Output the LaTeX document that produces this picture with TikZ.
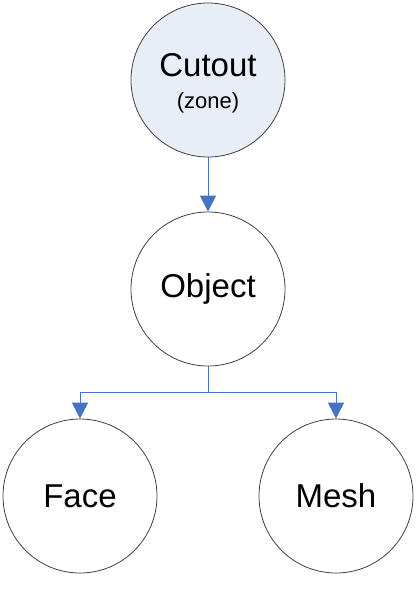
\documentclass[tikz,border=0pt]{standalone}
\usepackage{fontspec}
\setmainfont{Liberation Sans}
\usetikzlibrary{arrows.meta}
\definecolor{linkblue}{HTML}{4472C4}
\definecolor{rimgray}{HTML}{404040}
\definecolor{cutfill}{HTML}{E8EEF8}
\tikzset{
  entity/.style={circle, draw=rimgray, line width=0.8pt, minimum size=154pt, inner sep=0pt, align=center, font=\fontsize{33}{27}\selectfont},
  link/.style={draw=linkblue, line width=1pt, -{Triangle[length=16pt,width=16pt]}},
  bar/.style={draw=linkblue, line width=1pt}
}
\begin{document}
\begin{tikzpicture}[x=1pt,y=-1pt]
\useasboundingbox (0,0) rectangle (420,592);
\node[entity, fill=cutfill] (cut) at (208,80) {\rule{0pt}{30pt}Cutout\\[5pt]{\fontsize{22}{22}\selectfont (zone)}};
\node[entity] (obj) at (208,289) {Object};
\node[entity] (face) at (80,496) {Face};
\node[entity] (mesh) at (336,496) {Mesh};
\coordinate (split) at (208,392);
\draw[link] (cut) -- (obj);
\draw[bar] (obj.south) -- (split);
\draw[link] (split) -| (face.north);
\draw[link] (split) -| (mesh.north);
\end{tikzpicture}
\end{document}
